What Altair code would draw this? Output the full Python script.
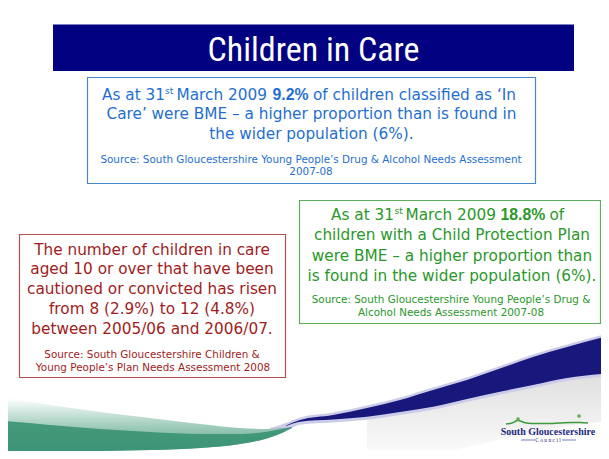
import altair as alt
import pandas as pd

# ---------------- content (text) ----------------
title_text = ["Children in Care"]

blue_line1 = ["As at 31", "st", "March 2009", "9.2%", "of children classified as \u2018In"]
blue_lines = ["Care\u2019 were BME \u2013 a higher proportion than is found in",
              "the wider population (6%)."]
blue_source = ["Source: South Gloucestershire Young People\u2019s Drug & Alcohol Needs Assessment",
               "2007-08"]

red_lines = ["The number of children in care",
             "aged 10 or over that have been",
             "cautioned or convicted has risen",
             "from 8 (2.9%) to 12 (4.8%)",
             "between 2005/06 and 2006/07."]
red_source = ["Source: South Gloucestershire Children &",
              "Young People\u2019s Plan Needs Assessment 2008"]

green_line1 = ["As at 31", "st", "March 2009", "18.8%", "of"]
green_lines = ["children with a Child Protection Plan",
               "were BME \u2013 a higher proportion than",
               "is found in the wider population (6%)."]
green_source = ["Source: South Gloucestershire Young People\u2019s Drug &",
                "Alcohol Needs Assessment 2007-08"]

logo_text = ["South Gloucestershire"]
logo_sub = ["C o u n c i l"]

# ---------------- decorative outlines (slide pixel coords) ----------------
blue_sw_x = [286, 300, 333, 367, 400, 433, 467, 500, 533, 567, 612]
blue_sw_top = [425.5, 420, 415, 408, 400, 390, 380, 368.5, 357, 347, 335]
blue_sw_bot = [426, 421.7, 419.5, 416.7, 412, 406.7, 399, 391.7, 385, 378, 373]

green_sw_x = [4, 50, 100, 150, 200, 240, 265, 282, 292]
green_sw_fade = [398, 405, 412, 418, 424, 428, 429, 428, 427]
green_sw_top = [421, 425, 429, 432, 434, 434, 432, 429, 427]
green_sw_bot = [452, 452, 451, 450, 448, 444, 439, 433, 428]

hill_x = [506, 512, 518, 524, 532, 545, 560, 572, 580, 588]
hill_y = [424, 423, 420.5, 422.5, 423.5, 423.5, 423, 422.5, 422.5, 423]

# ---------------- layout ----------------
XS = alt.Scale(domain=[8, 601], nice=False, zero=False)
YS = alt.Scale(domain=[8, 451], nice=False, zero=False, reverse=True)

BODY = "DejaVu Sans"
BOLD = "Liberation Sans"
TITLE_FONT = "Roboto Condensed, Liberation Sans"
BODY_SIZE = 15.3
SRC_SIZE = 10.4

NAVY = "#000080"
BLUE_T, BLUE_B = "#1f6fd0", "#4a86d0"
RED_T, RED_B = "#a01c1c", "#b05050"
GREEN_T, GREEN_B = "#2a982a", "#5cae5c"


def X(f="x"):
    return alt.X(f"{f}:Q", scale=XS, axis=None)


def Y(f="y"):
    return alt.Y(f"{f}:Q", scale=YS, axis=None)


def text_layer(texts, xs, ys, size, color, align="center", font=BODY, weight="normal"):
    df = pd.DataFrame({"t": texts, "x": xs, "y": ys})
    return alt.Chart(df).mark_text(
        align=align, baseline="alphabetic", font=font, fontSize=size,
        color=color, fontWeight=weight
    ).encode(x=X(), y=Y(), text="t:N")


def rect_layer(x, x2, y, y2, fill, stroke=None, sw=1.0):
    df = pd.DataFrame({"x": [x], "x2": [x2], "y": [y], "y2": [y2]})
    kw = {"fill": fill}
    if stroke:
        kw.update(stroke=stroke, strokeWidth=sw)
    return alt.Chart(df).mark_rect(**kw).encode(x=X(), x2="x2:Q", y=Y(), y2="y2:Q")


def area_layer(xs, top, bot, color, opacity=1.0):
    df = pd.DataFrame({"x": xs, "top": top, "bot": bot})
    return alt.Chart(df).mark_area(interpolate="monotone", color=color, opacity=opacity).encode(
        x=X(), y=Y("top"), y2="bot:Q")


layers = []

# --- swooshes at the bottom ---
shadow_top = [b + 3 for b in blue_sw_bot]
shadow_bot = [b + 48 for b in blue_sw_bot]
layers.append(area_layer(blue_sw_x[3:], shadow_top[3:], shadow_bot[3:],
                         alt.Gradient(gradient="linear",
                                      stops=[alt.GradientStop(color="#e0e0e0", offset=0),
                                             alt.GradientStop(color="#ffffff", offset=1)],
                                      x1=0, x2=0, y1=0, y2=1)))
layers.append(area_layer(green_sw_x, green_sw_fade, green_sw_bot,
                         alt.Gradient(gradient="linear",
                                      stops=[alt.GradientStop(color="#ffffff", offset=0),
                                             alt.GradientStop(color="#9ccab8", offset=0.55),
                                             alt.GradientStop(color="#5fa58a", offset=1)],
                                      x1=0, x2=0, y1=0, y2=1)))
layers.append(area_layer(green_sw_x, green_sw_top, green_sw_bot, "#3a9273", 0.9))
layers.append(area_layer([270] + blue_sw_x, [428] + [t - 2.5 for t in blue_sw_top],
                         [429] + [b + 3 for b in blue_sw_bot], "#8080c8", 0.4))
layers.append(area_layer(blue_sw_x, blue_sw_top, blue_sw_bot, "#17177c"))

# --- title bar ---
layers.append(rect_layer(53, 574, 24.5, 71, NAVY))
layers.append(text_layer(title_text, [313.5], [60.5], 34, "white", font=TITLE_FONT))

# --- blue box ---
layers.append(rect_layer(87.5, 535.5, 77.5, 183.5, "white", BLUE_B, 1.2))
layers.append(text_layer([blue_line1[0]], [102], [99.5], BODY_SIZE, BLUE_T, align="left"))
layers.append(text_layer([blue_line1[1]], [165], [93.5], 9.2, BLUE_T, align="left"))
layers.append(text_layer([blue_line1[2]], [176.5], [99.5], BODY_SIZE, BLUE_T, align="left"))
layers.append(text_layer([blue_line1[3]], [272.5], [99.5], 15.8, BLUE_T, align="left",
                         font=BOLD, weight="bold"))
layers.append(text_layer([blue_line1[4]], [313], [99.5], BODY_SIZE, BLUE_T, align="left"))
layers.append(text_layer(blue_lines, [311.5, 311.5], [119, 138.5], BODY_SIZE, BLUE_T))
layers.append(text_layer(blue_source, [311, 311], [162.5, 175], SRC_SIZE, BLUE_T))

# --- red box ---
layers.append(rect_layer(19.5, 285.5, 234.5, 377.5, "white", RED_B, 1.2))
layers.append(text_layer(red_lines, [152] * 5,
                         [254.5, 274.3, 294.1, 313.9, 333.7], BODY_SIZE, RED_T))
layers.append(text_layer(red_source, [152, 153], [358.3, 371], SRC_SIZE, RED_T))

# --- green box ---
layers.append(rect_layer(299.5, 600.5, 200.5, 323.5, "white", GREEN_B, 1.2))
layers.append(text_layer([green_line1[0]], [331], [219.5], BODY_SIZE, GREEN_T, align="left"))
layers.append(text_layer([green_line1[1]], [394.5], [213.5], 9.2, GREEN_T, align="left"))
layers.append(text_layer([green_line1[2]], [405.5], [219.5], BODY_SIZE, GREEN_T, align="left"))
layers.append(text_layer([green_line1[3]], [500.5], [219.5], 15.8, GREEN_T, align="left",
                         font=BOLD, weight="bold"))
layers.append(text_layer([green_line1[4]], [549.5], [219.5], BODY_SIZE, GREEN_T, align="left"))
layers.append(text_layer(green_lines, [452] * 3, [240, 260.5, 280.7], BODY_SIZE, GREEN_T))
layers.append(text_layer(green_source, [451, 451], [302.7, 316], SRC_SIZE, GREEN_T))

# --- logo ---
hill_df = pd.DataFrame({"x": hill_x, "y": hill_y})
layers.append(alt.Chart(hill_df).mark_line(interpolate="monotone", color="#3c9a3c",
                                           strokeWidth=1.6).encode(x=X(), y=Y()))
tree_df = pd.DataFrame({"x": [518, 579], "y": [419, 416]})
layers.append(alt.Chart(tree_df).mark_point(filled=True, color="#6aae5a", size=14,
                                            opacity=1).encode(x=X(), y=Y()))
layers.append(text_layer(logo_text, [548], [435], 10, "#1b2a80",
                         font="Liberation Serif", weight="bold"))
layers.append(text_layer(logo_sub, [548], [441.8], 5.5, "#1b2a80", font="Liberation Serif"))
rule_df = pd.DataFrame({"x": [521, 562], "x2": [535, 576], "y": [440, 440]})
layers.append(alt.Chart(rule_df).mark_rule(color="#1b2a80", strokeWidth=0.6).encode(
    x=X(), x2="x2:Q", y=Y()))

chart = alt.layer(*layers).properties(
    width=593, height=443, padding=0,
    autosize=alt.AutoSizeParams(type="none"),
    background="white",
).configure_view(stroke=None)

chart.save("out.html", embed_options={"renderer": "svg", "actions": False})
